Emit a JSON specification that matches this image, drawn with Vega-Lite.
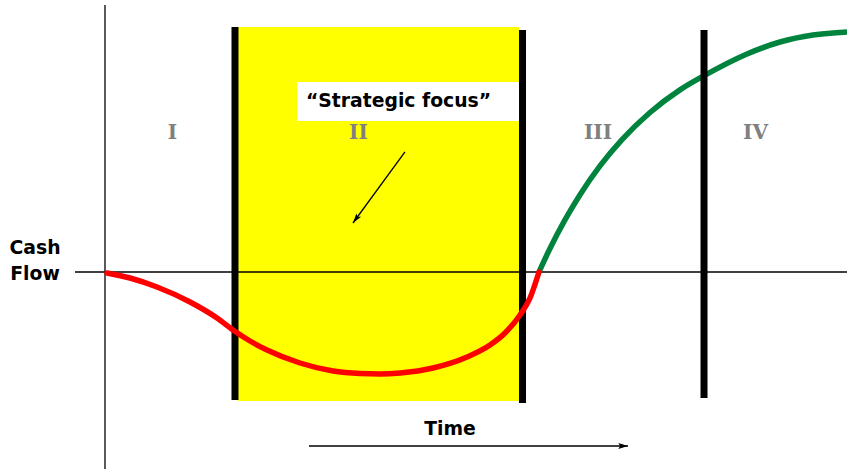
{
  "$schema": "https://vega.github.io/schema/vega-lite/v6.json",
  "width": 847,
  "height": 469,
  "autosize": {"type": "none"},
  "padding": 0,
  "background": "white",
  "config": {"view": {"stroke": null}},
  "datasets": {
    "focusBand": [{"t0": 17.92, "t1": 55.8, "v0": -47.43, "v1": 90.07}],
    "calloutBox": [{"t0": 25.88, "t1": 55.8, "v0": 55.51, "v1": 69.85}],
    "axes": [
      {"t0": 0, "t1": 0, "v0": 98.2, "v1": -72.4},
      {"t0": -4.04, "t1": 100, "v0": 0, "v1": 0}
    ],
    "phaseBars": [
      {"t": 17.52, "v0": -47.06, "v1": 90.07},
      {"t": 56.27, "v0": -48.16, "v1": 88.97},
      {"t": 80.73, "v0": -46.32, "v1": 88.97}
    ],
    "negativeFlow": [
      {"t": 0.27, "v": -0.37},
      {"t": 3.37, "v": -2.21},
      {"t": 7.01, "v": -5.51},
      {"t": 11.46, "v": -11.03},
      {"t": 15.09, "v": -16.91},
      {"t": 17.25, "v": -21.32},
      {"t": 19.54, "v": -25.37},
      {"t": 21.83, "v": -28.68},
      {"t": 26.28, "v": -33.46},
      {"t": 30.73, "v": -36.4},
      {"t": 34.37, "v": -37.32},
      {"t": 37.06, "v": -37.5},
      {"t": 39.76, "v": -37.13},
      {"t": 44.2, "v": -35.29},
      {"t": 48.79, "v": -31.25},
      {"t": 51.89, "v": -26.84},
      {"t": 53.91, "v": -22.43},
      {"t": 55.93, "v": -15.81},
      {"t": 57.28, "v": -9.56},
      {"t": 58.49, "v": 0}
    ],
    "positiveFlow": [
      {"t": 58.49, "v": 0},
      {"t": 59.97, "v": 8.64},
      {"t": 61.99, "v": 19.15},
      {"t": 64.02, "v": 28.42},
      {"t": 66.71, "v": 39.01},
      {"t": 69.68, "v": 48.68},
      {"t": 73.45, "v": 58.64},
      {"t": 77.49, "v": 66.95},
      {"t": 80.86, "v": 72.35},
      {"t": 86.52, "v": 80.15},
      {"t": 90.97, "v": 84.56},
      {"t": 95.42, "v": 87.13},
      {"t": 100, "v": 88.24}
    ],
    "arrows": [
      {"t0": 27.49, "t1": 70.49, "v0": -63.97, "v1": -63.97},
      {"t0": 40.43, "t1": 33.42, "v0": 44.12, "v1": 18.01}
    ],
    "timeArrowTip": [{"t": 70.49, "v": -63.97}],
    "focusArrowTip": [{"t": 33.42, "v": 18.01}],
    "phases": [
      {"label": "I", "t": 9.1, "v": 48.9},
      {"label": "II", "t": 34.16, "v": 48.9},
      {"label": "III", "t": 66.44, "v": 48.9},
      {"label": "IV", "t": 87.67, "v": 48.9}
    ],
    "captions": [
      {"label": "Cash", "t": -9.43, "v": 6.62},
      {"label": "Flow", "t": -9.43, "v": -2.94},
      {"label": "“Strategic focus”", "t": 39.56, "v": 60.66},
      {"label": "Time", "t": 46.5, "v": -59.93}
    ]
  },
  "encoding": {
    "x": {"field": "t", "type": "quantitative", "scale": {"domain": [-14.15, 100], "nice": false, "zero": false}, "axis": null},
    "y": {"field": "v", "type": "quantitative", "scale": {"domain": [-72.43, 100], "nice": false, "zero": false}, "axis": null}
  },
  "layer": [
    {
      "data": {"name": "focusBand"},
      "mark": {"type": "rect", "color": "#FFFF00"},
      "encoding": {
        "x": {"field": "t0", "type": "quantitative"},
        "x2": {"field": "t1"},
        "y": {"field": "v0", "type": "quantitative"},
        "y2": {"field": "v1"}
      }
    },
    {
      "data": {"name": "calloutBox"},
      "mark": {"type": "rect", "color": "#FFFFFF"},
      "encoding": {
        "x": {"field": "t0", "type": "quantitative"},
        "x2": {"field": "t1"},
        "y": {"field": "v0", "type": "quantitative"},
        "y2": {"field": "v1"}
      }
    },
    {
      "data": {"name": "axes"},
      "mark": {"type": "rule", "color": "#000000", "strokeWidth": 1.3},
      "encoding": {
        "x": {"field": "t0", "type": "quantitative"},
        "x2": {"field": "t1"},
        "y": {"field": "v0", "type": "quantitative"},
        "y2": {"field": "v1"}
      }
    },
    {
      "data": {"name": "positiveFlow"},
      "mark": {"type": "line", "color": "#00843D", "strokeWidth": 5.5, "interpolate": "monotone", "strokeCap": "butt"},
      "encoding": {}
    },
    {
      "data": {"name": "phaseBars"},
      "mark": {"type": "rule", "color": "#000000", "strokeWidth": 7, "strokeCap": "butt"},
      "encoding": {
        "y": {"field": "v0", "type": "quantitative"},
        "y2": {"field": "v1"}
      }
    },
    {
      "data": {"name": "negativeFlow"},
      "mark": {"type": "line", "color": "#FF0000", "strokeWidth": 5.5, "interpolate": "monotone", "strokeCap": "round"},
      "encoding": {}
    },
    {
      "data": {"name": "arrows"},
      "mark": {"type": "rule", "color": "#000000", "strokeWidth": 1.3},
      "encoding": {
        "x": {"field": "t0", "type": "quantitative"},
        "x2": {"field": "t1"},
        "y": {"field": "v0", "type": "quantitative"},
        "y2": {"field": "v1"}
      }
    },
    {
      "data": {"name": "timeArrowTip"},
      "mark": {"type": "point", "shape": "M0,0L0.3,1L0,0.8L-0.3,1Z", "size": 380, "angle": 90, "filled": true, "color": "#000000", "opacity": 1}
    },
    {
      "data": {"name": "focusArrowTip"},
      "mark": {"type": "point", "shape": "M0,0L0.3,1L0,0.8L-0.3,1Z", "size": 380, "angle": 216.2, "filled": true, "color": "#000000", "opacity": 1}
    },
    {
      "data": {"name": "phases"},
      "mark": {"type": "text", "font": "DejaVu Serif", "fontWeight": "bold", "fontSize": 20, "color": "#7F7F7F", "align": "center", "baseline": "alphabetic"},
      "encoding": {"text": {"field": "label"}}
    },
    {
      "data": {"name": "captions"},
      "mark": {"type": "text", "font": "DejaVu Sans", "fontWeight": "bold", "fontSize": 18.8, "color": "#000000", "align": "center", "baseline": "alphabetic"},
      "encoding": {"text": {"field": "label"}}
    }
  ]
}
